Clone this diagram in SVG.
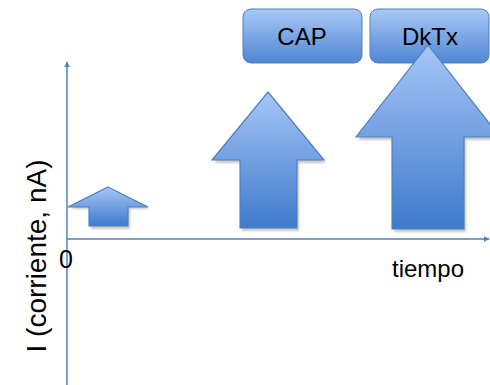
<svg xmlns="http://www.w3.org/2000/svg" width="490" height="385" viewBox="0 0 490 385">
<defs>
<linearGradient id="gBox" x1="0" y1="0" x2="0" y2="1">
<stop offset="0" stop-color="#a9c8f5"/>
<stop offset="1" stop-color="#4f86d4"/>
</linearGradient>
<linearGradient id="gArr" x1="0" y1="0" x2="0" y2="1">
<stop offset="0" stop-color="#a6c6f7"/>
<stop offset="1" stop-color="#3e7acb"/>
</linearGradient>
<marker id="ah" viewBox="0 0 10 10" refX="9" refY="5" markerWidth="6" markerHeight="6" orient="auto" markerUnits="userSpaceOnUse">
<path d="M0,0 L10,5 L0,10 z" fill="#4f81bd"/>
</marker>
<filter id="sh" x="-20%" y="-20%" width="140%" height="140%">
<feGaussianBlur stdDeviation="0.8"/>
</filter>
</defs>
<style>
.box{fill:url(#gBox);stroke:#4f81bd;stroke-width:1}
.arr{fill:url(#gArr);stroke:#4f81bd;stroke-width:1.2;stroke-linejoin:miter}
.shadow{fill:#9a9a9a;opacity:0.55}
.axis{stroke:#4f81bd;stroke-width:1.5;fill:none}
.t{font-family:"Liberation Sans",Arial,sans-serif;fill:#000}
</style>
<g id="connectors">
<line class="axis" x1="67" y1="385" x2="67" y2="62" marker-end="url(#ah)"/>
<line class="axis" x1="67" y1="239" x2="489" y2="239" marker-end="url(#ah)"/>
</g>
<g id="node-cap">
<rect class="box" x="243" y="9" width="119" height="54" rx="8"/>
<text class="t" x="302" y="45" font-size="24" text-anchor="middle">CAP</text>
</g>
<g id="node-dktx">
<rect class="box" x="370" y="9" width="119" height="54" rx="8"/>
<text class="t" x="430" y="45" font-size="24" text-anchor="middle">DkTx</text>
</g>
<g id="arrow-small">
<path class="shadow" filter="url(#sh)" d="M110,190 L150,209 L130,209 L130,229 L91,229 L91,209 L70,209 Z"/>
<path class="arr" d="M108,187 L148,207 L128,207 L128,226 L89,226 L89,207 L68,207 Z"/>
</g>
<g id="arrow-medium">
<path class="shadow" filter="url(#sh)" d="M270,95 L326,163 L299,163 L299,231 L242,231 L242,163 L214,163 Z"/>
<path class="arr" d="M268,92 L324,160 L297,160 L297,228 L240,228 L240,160 L212,160 Z"/>
</g>
<g id="arrow-large">
<path class="shadow" filter="url(#sh)" d="M430,48 L502,140 L466,140 L466,232 L394,232 L394,140 L358,140 Z"/>
<path class="arr" d="M428,45 L500,137 L464,137 L464,229 L392,229 L392,137 L356,137 Z"/>
</g>
<g id="labels">
<text class="t" x="66" y="268" font-size="25" text-anchor="middle">0</text>
<text class="t" x="428" y="277" font-size="24" text-anchor="middle">tiempo</text>
<text class="t" x="0" y="0" font-size="28" text-anchor="middle" transform="translate(46,256) rotate(-90)">I (corriente, nA)</text>
</g>
</svg>
